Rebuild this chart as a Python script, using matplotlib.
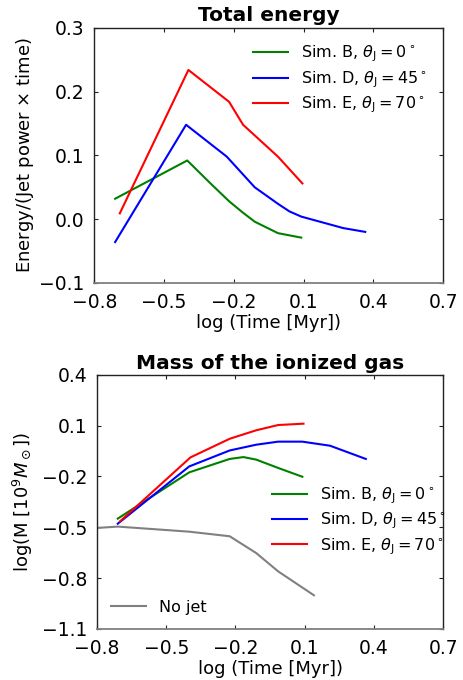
import numpy as np
import matplotlib.pyplot as plt

# Total energy curves (log time [Myr], energy / (jet power x time))
tB_e = [-0.71, -0.40, -0.30, -0.22, -0.16, -0.11, -0.01, 0.09]
eB = [0.032, 0.092, 0.056, 0.028, 0.010, -0.004, -0.022, -0.029]
tD_e = [-0.71, -0.405, -0.23, -0.11, -0.01, 0.04, 0.09, 0.27, 0.365]
eD = [-0.036, 0.148, 0.098, 0.050, 0.024, 0.012, 0.004, -0.014, -0.020]
tE_e = [-0.69, -0.395, -0.22, -0.16, -0.01, 0.095]
eE = [0.009, 0.234, 0.184, 0.148, 0.098, 0.056]

# Ionized gas mass, log(M [1e9 Msun])
tB_m = [-0.71, -0.40, -0.225, -0.165, -0.11, -0.015, 0.09]
mB = [-0.449, -0.176, -0.097, -0.086, -0.101, -0.150, -0.202]
tD_m = [-0.71, -0.40, -0.225, -0.11, -0.015, 0.09, 0.21, 0.365]
mD = [-0.479, -0.141, -0.047, -0.013, 0.005, 0.005, -0.019, -0.097]
tE_m = [-0.70, -0.395, -0.225, -0.11, -0.015, 0.095]
mE = [-0.465, -0.088, 0.022, 0.072, 0.103, 0.111]
t_nojet = [-0.80, -0.71, -0.40, -0.225, -0.11, -0.015, 0.14]
m_nojet = [-0.504, -0.496, -0.526, -0.553, -0.652, -0.760, -0.901]

labels = [r'Sim. B, $\theta_{\rm J} = 0^\circ$',
          r'Sim. D, $\theta_{\rm J} = 45^\circ$',
          r'Sim. E, $\theta_{\rm J} = 70^\circ$']
colors = ['green', 'blue', 'red']

xticks = [-0.8, -0.5, -0.2, 0.1, 0.4, 0.7]

fig = plt.figure(figsize=(4.64, 6.8), dpi=100)
ax1 = fig.add_axes([0.203, 0.584, 0.752, 0.375])
ax2 = fig.add_axes([0.209, 0.075, 0.746, 0.374])

def style_axes(ax):
    for s in ax.spines.values():
        s.set_color('#222222')
        s.set_linewidth(1.0)
    ax.spines['bottom'].set_color('#808080')
    ax.spines['bottom'].set_linewidth(1.3)
    ax.tick_params(direction='in', top=True, right=True, length=3, width=0.8,
                   color='#222222', labelsize=13.5, pad=7)
    ax.set_xlim(-0.8, 0.7)
    ax.set_xticks(xticks)
    ax.set_xticklabels(['%.1f' % v if v >= 0 else '\u2212%.1f' % -v for v in xticks])

for t, e, c, lab in zip([tB_e, tD_e, tE_e], [eB, eD, eE], colors, labels):
    ax1.plot(t, e, color=c, lw=1.5, label=lab)
style_axes(ax1)
ax1.set_ylim(-0.1, 0.3)
ax1.set_yticks([-0.1, 0.0, 0.1, 0.2, 0.3])
ax1.set_title('Total energy', fontsize=14.5, fontweight='bold', pad=5)
ax1.set_xlabel('log (Time [Myr])', fontsize=13, labelpad=2)
ax1.set_ylabel(r'Energy/(Jet power $\times$ time)', fontsize=13, labelpad=2)
ax1.legend(loc='upper right', frameon=False, fontsize=11.5, handlelength=2.2,
           labelspacing=0.3, borderaxespad=0.6)

lines = []
for t, m, c, lab in zip([tB_m, tD_m, tE_m], [mB, mD, mE], colors, labels):
    lines += ax2.plot(t, m, color=c, lw=1.5, label=lab)
nj, = ax2.plot(t_nojet, m_nojet, color='gray', lw=1.5, label='No jet')
style_axes(ax2)
ax2.set_ylim(-1.1, 0.4)
ax2.set_yticks([-1.1, -0.8, -0.5, -0.2, 0.1, 0.4])
ax2.set_title('Mass of the ionized gas', fontsize=14.5, fontweight='bold', pad=4)
ax2.set_xlabel('log (Time [Myr])', fontsize=13, labelpad=2)
ax2.set_ylabel(r'log(M [$10^9 M_\odot$])', fontsize=13, labelpad=5)
leg = ax2.legend(handles=lines, loc='center right', bbox_to_anchor=(1.05, 0.425),
                 frameon=False, fontsize=11.5, handlelength=2.2, labelspacing=0.3)
ax2.add_artist(leg)
ax2.legend(handles=[nj], loc='lower left', frameon=False, fontsize=11.5,
           handlelength=2.2)

fig.savefig('out.png', dpi=100)
